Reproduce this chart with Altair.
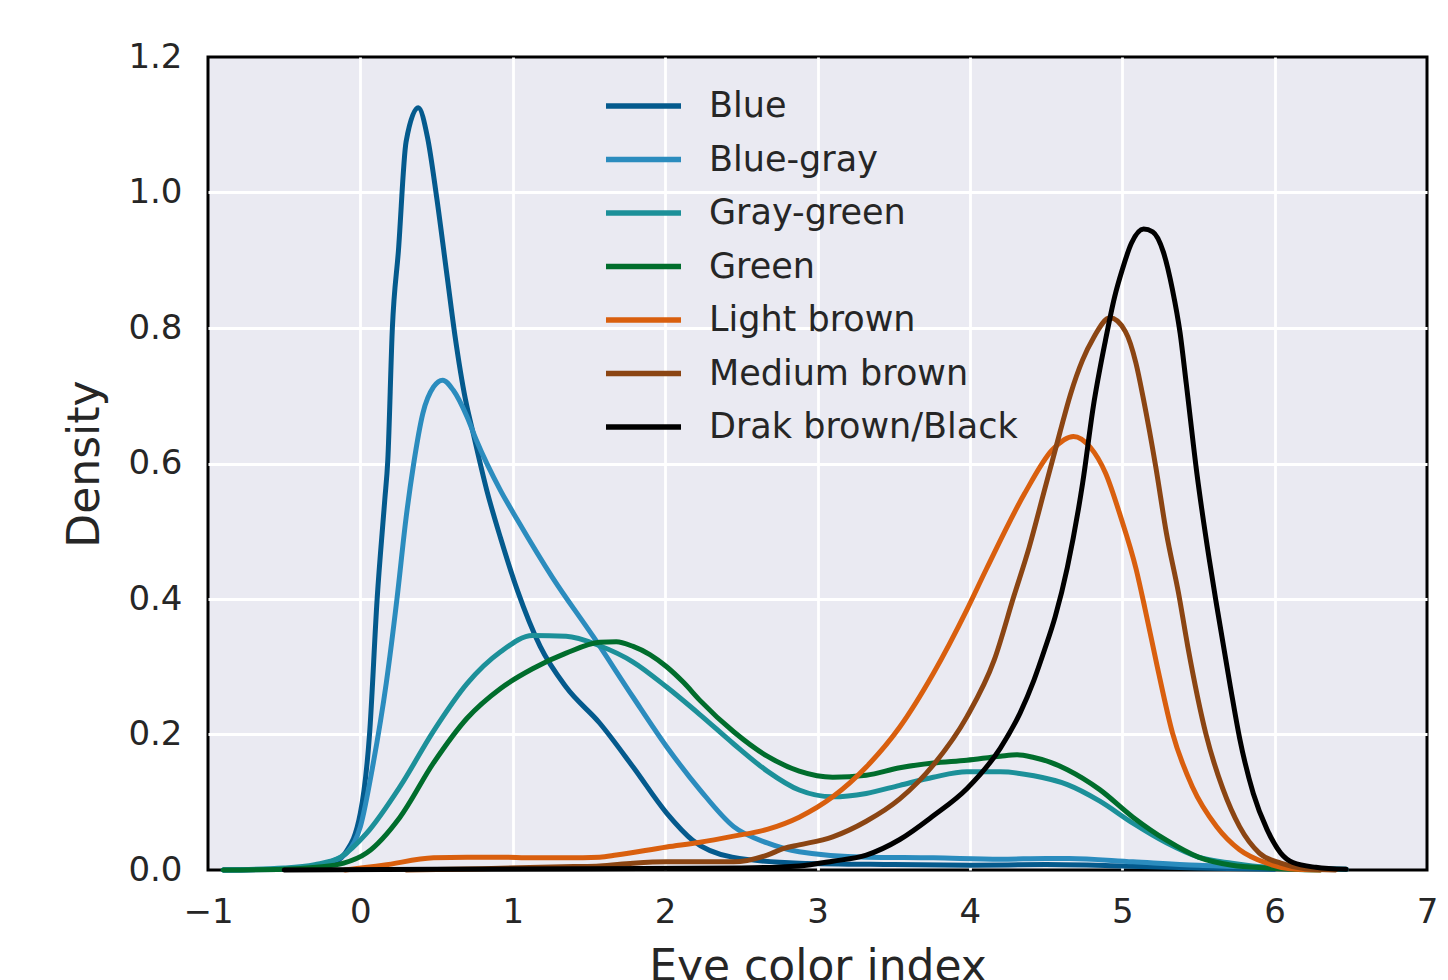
import altair as alt
import pandas as pd

# ---- data (x = eye color index, y = density) ----
series_names = ["Blue", "Blue-gray", "Gray-green", "Green",
                "Light brown", "Medium brown", "Drak brown/Black"]
series_colors = ["#045a8d", "#2b8cbe", "#1c9099", "#006d2c",
                 "#d95f0e", "#8b4513", "#000000"]

blue_x = [-0.9, -0.5, -0.3, -0.2, -0.1, 0.0, 0.06, 0.11, 0.16, 0.18, 0.21, 0.25, 0.30, 0.38,
          0.44, 0.50, 0.57, 0.62, 0.69, 0.74, 0.83, 0.92, 1.03, 1.18, 1.35, 1.57, 1.79, 2.01,
          2.18, 2.44, 2.88, 3.5, 4.0, 4.5, 5.0, 5.5, 6.0]
blue_y = [0.0, 0.001, 0.004, 0.008, 0.025, 0.084, 0.20, 0.40, 0.546, 0.605, 0.80, 0.915, 1.075, 1.125,
          1.082, 0.994, 0.875, 0.79, 0.694, 0.645, 0.56, 0.49, 0.413, 0.33, 0.27, 0.217, 0.152, 0.084,
          0.044, 0.019, 0.01, 0.008, 0.007, 0.008, 0.006, 0.003, 0.001]

bluegray_x = [-0.9, -0.5, -0.3, -0.2, -0.09, 0.0, 0.08, 0.17, 0.24, 0.30, 0.35, 0.41, 0.48, 0.54,
              0.61, 0.70, 0.76, 0.92, 1.03, 1.26, 1.53, 1.79, 2.01, 2.23, 2.45, 2.67, 2.88, 3.32,
              3.76, 4.2, 4.5, 4.65, 5.07, 5.5, 5.95, 6.47]
bluegray_y = [0.0, 0.002, 0.006, 0.012, 0.025, 0.064, 0.152, 0.276, 0.40, 0.52, 0.60, 0.674, 0.713, 0.723,
              0.708, 0.669, 0.635, 0.56, 0.517, 0.432, 0.344, 0.255, 0.182, 0.118, 0.064, 0.04, 0.027, 0.019,
              0.018, 0.016, 0.017, 0.017, 0.012, 0.007, 0.004, 0.001]

graygreen_x = [-0.9, -0.5, -0.3, -0.13, 0.04, 0.26, 0.48, 0.70, 0.92, 1.13, 1.35, 1.57, 1.79, 2.01,
               2.23, 2.45, 2.67, 2.88, 3.1, 3.32, 3.54, 3.76, 3.98, 4.2, 4.42, 4.64, 4.85, 5.07,
               5.29, 5.5, 5.72, 5.95, 6.47]
graygreen_y = [0.0, 0.003, 0.008, 0.019, 0.054, 0.123, 0.205, 0.275, 0.322, 0.346, 0.345, 0.331, 0.307, 0.27,
               0.229, 0.186, 0.146, 0.118, 0.108, 0.113, 0.125, 0.137, 0.145, 0.145, 0.139, 0.126, 0.102, 0.069,
               0.04, 0.019, 0.01, 0.004, 0.001]

green_x = [-0.9, -0.5, -0.29, -0.11, 0.04, 0.26, 0.48, 0.70, 0.92, 1.13, 1.35, 1.57, 1.68, 1.79,
           1.9, 2.01, 2.12, 2.23, 2.45, 2.67, 2.88, 3.1, 3.32, 3.54, 3.76, 3.98, 4.2, 4.31, 4.42,
           4.53, 4.64, 4.85, 5.07, 5.29, 5.5, 5.72, 5.95, 6.3]
green_y = [0.0, 0.001, 0.004, 0.01, 0.025, 0.078, 0.158, 0.224, 0.268, 0.297, 0.32, 0.336, 0.337, 0.33,
           0.318, 0.300, 0.277, 0.25, 0.204, 0.168, 0.146, 0.137, 0.14, 0.151, 0.158, 0.162, 0.168, 0.17, 0.166,
           0.159, 0.148, 0.119, 0.078, 0.044, 0.019, 0.007, 0.003, 0.0]

lightbrown_x = [-0.1, 0.15, 0.48, 0.70, 0.92, 1.13, 1.35, 1.57, 1.68, 2.01, 2.23, 2.45, 2.67, 2.88,
                3.1, 3.32, 3.54, 3.76, 3.98, 4.11, 4.36, 4.54, 4.68, 4.79, 4.89, 4.99, 5.09,
                5.15, 5.23, 5.33, 5.46, 5.62, 5.77, 5.95, 6.1, 6.3]
lightbrown_y = [0.0, 0.007, 0.018, 0.019, 0.019, 0.018, 0.018, 0.019, 0.022, 0.034, 0.041, 0.05, 0.06, 0.078,
                0.108, 0.152, 0.211, 0.29, 0.384, 0.445, 0.556, 0.62, 0.64, 0.624, 0.586, 0.521, 0.445,
                0.385, 0.30, 0.202, 0.123, 0.064, 0.03, 0.01, 0.002, 0.0]

mediumbrown_x = [0.3, 0.8, 1.4, 1.57, 1.79, 2.01, 2.45, 2.67, 2.78, 2.88, 3.1, 3.32, 3.54, 3.76,
                 3.98, 4.16, 4.29, 4.39, 4.49, 4.59, 4.66, 4.74, 4.81, 4.92, 5.02, 5.09, 5.14, 5.22,
                 5.29, 5.37, 5.43, 5.55, 5.66, 5.77, 5.90, 6.04, 6.2, 6.4]
mediumbrown_y = [0.0, 0.002, 0.005, 0.006, 0.01, 0.012, 0.012, 0.022, 0.032, 0.037, 0.049, 0.072, 0.105, 0.155,
                 0.226, 0.31, 0.405, 0.477, 0.561, 0.645, 0.702, 0.753, 0.785, 0.815, 0.795, 0.748, 0.694, 0.595,
                 0.497, 0.408, 0.33, 0.20, 0.12, 0.064, 0.025, 0.01, 0.002, 0.0]

black_x = [-0.5, 0.5, 1.5, 2.5, 2.88, 3.1, 3.32, 3.54, 3.76, 3.98, 4.2, 4.33, 4.42, 4.49,
           4.56, 4.64, 4.74, 4.81, 4.89, 4.95, 5.0, 5.06, 5.14, 5.20, 5.27, 5.33, 5.38, 5.42,
           5.49, 5.57, 5.62, 5.71, 5.77, 5.86, 5.95, 6.04, 6.12, 6.27, 6.47]
black_y = [0.0, 0.001, 0.002, 0.003, 0.006, 0.013, 0.022, 0.045, 0.08, 0.12, 0.18, 0.232, 0.28, 0.325,
           0.374, 0.447, 0.571, 0.684, 0.782, 0.846, 0.886, 0.925, 0.946, 0.942, 0.912, 0.856, 0.792, 0.718,
           0.585, 0.46, 0.39, 0.27, 0.195, 0.113, 0.06, 0.025, 0.011, 0.004, 0.001]

x_ticks = [-1, 0, 1, 2, 3, 4, 5, 6, 7]
y_ticks = [0.0, 0.2, 0.4, 0.6, 0.8, 1.0, 1.2]

series_xy = [(blue_x, blue_y), (bluegray_x, bluegray_y), (graygreen_x, graygreen_y),
             (green_x, green_y), (lightbrown_x, lightbrown_y),
             (mediumbrown_x, mediumbrown_y), (black_x, black_y)]

rows = []
for i, (name, (xs, ys)) in enumerate(zip(series_names, series_xy)):
    for xv, yv in zip(xs, ys):
        rows.append({"series": name, "order": i, "x": xv, "y": yv})
df = pd.DataFrame(rows)

TEXT = "#262626"

chart = alt.Chart(df).mark_line(strokeWidth=5, interpolate="monotone", strokeCap="round").encode(
    x=alt.X("x:Q", title="Eye color index",
            scale=alt.Scale(domain=[-1, 7], nice=False, zero=False),
            axis=alt.Axis(values=x_ticks, format="d", labelFlush=False,
                          gridColor={"condition": {"test": "datum.value <= -1 || datum.value >= 7",
                                                   "value": "transparent"},
                                     "value": "white"})),
    y=alt.Y("y:Q", title="Density",
            scale=alt.Scale(domain=[0, 1.2], nice=False),
            axis=alt.Axis(values=y_ticks, format=".1f", labelFlush=False,
                          gridColor={"condition": {"test": "datum.value <= 0 || datum.value >= 1.19",
                                                   "value": "transparent"},
                                     "value": "white"})),
    color=alt.Color("series:N",
                    scale=alt.Scale(domain=series_names, range=series_colors),
                    legend=alt.Legend(title=None, orient="none", legendX=395, legendY=29,
                                      symbolType="stroke", symbolSize=5625, symbolStrokeWidth=5.5,
                                      labelFontSize=35, labelColor=TEXT, labelOffset=25,
                                      clipHeight=40, rowPadding=13.5, padding=0,
                                      labelFont="DejaVu Sans", labelLimit=600)),
    order=alt.Order("order:Q"),
).properties(
    width=1219, height=813,
    autosize=alt.AutoSizeParams(type="none"),
    padding={"left": 208, "top": 57, "right": 21, "bottom": 110},
    background="white",
).configure_view(
    fill="#EAEAF2", stroke="black", strokeWidth=3
).configure_axis(
    grid=True, gridWidth=2.8, domain=False, ticks=False, tickSize=0,
    labelFont="DejaVu Sans", labelFontSize=34, labelColor=TEXT,
    titleFont="DejaVu Sans", titleFontSize=44, titleFontWeight="normal", titleColor=TEXT,
).configure_axisX(
    labelPadding=25, titlePadding=16
).configure_axisY(
    labelPadding=26, titlePadding=20
)

chart.save("out.html", embed_options={"renderer": "svg", "actions": False})
